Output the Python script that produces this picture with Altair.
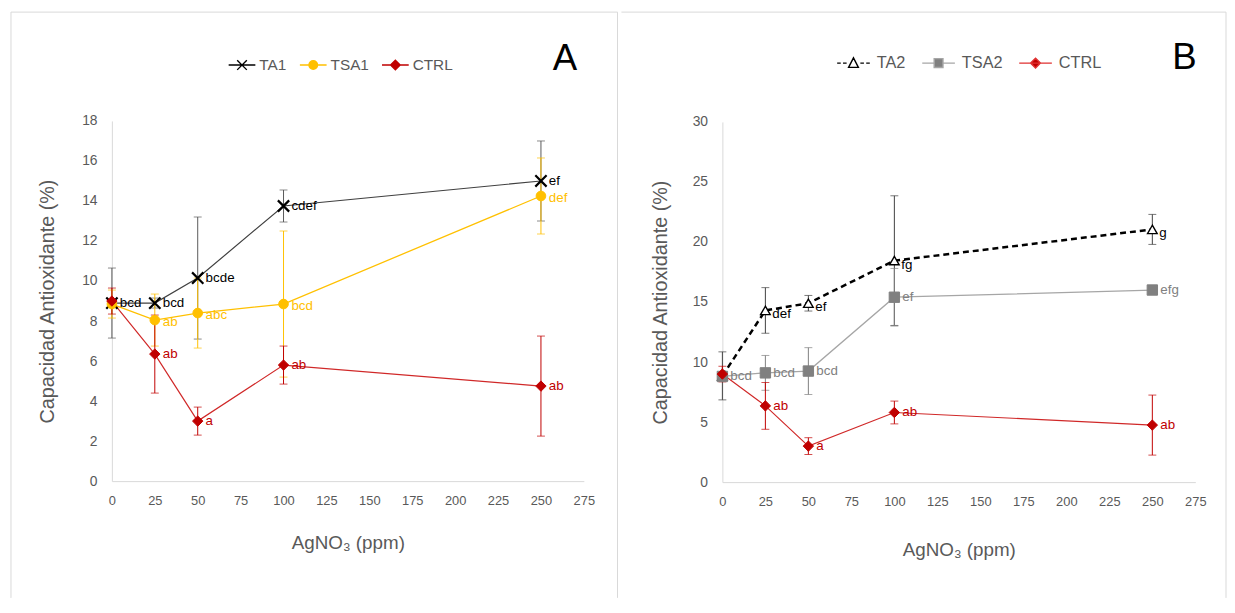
import altair as alt
import pandas as pd

# ---------------- data ----------------
x_ppm = [0, 25, 50, 100, 250]

ta1 = [8.9, 8.9, 10.15, 13.75, 15.0]
ta1_err = [1.75, 0.25, 3.05, 0.8, 2.0]
ta1_lab = ["bcd", "bcd", "bcde", "cdef", "ef"]

tsa1 = [8.85, 8.05, 8.4, 8.85, 14.25]
tsa1_err = [0.7, 1.3, 1.75, 3.65, 1.9]
tsa1_lab = ["", "ab", "abc", "bcd", "def"]

ctrl = [9.0, 6.35, 3.0, 5.8, 4.75]
ctrl_err = [0.65, 1.95, 0.7, 0.95, 2.5]
ctrl_lab = ["", "ab", "a", "ab", "ab"]

ta2 = [8.85, 14.3, 14.9, 18.45, 21.05]
ta2_err = [2.0, 1.9, 0.65, 5.4, 1.25]
ta2_lab = ["", "def", "ef", "fg", "g"]

tsa2 = [8.8, 9.1, 9.25, 15.4, 16.0]
tsa2_err = [0.3, 1.45, 1.95, 2.4, 0.2]
tsa2_lab = ["bcd", "bcd", "bcd", "ef", "efg"]

x_ticks = [0, 25, 50, 75, 100, 125, 150, 175, 200, 225, 250, 275]
yA_ticks = [0, 2, 4, 6, 8, 10, 12, 14, 16, 18]
yB_ticks = [0, 5, 10, 15, 20, 25, 30]

# ---------------- style ----------------
GRAY_TXT = "#595959"
AXIS_C = "#d9d9d9"
FONT = "Liberation Sans Narrow, Liberation Sans, sans-serif"
W_A, W_B, H = 613, 611, 592

X_PATH = "M-1,-1L1,1M1,-1L-1,1"


def frame(df_vals, err, labels):
    return pd.DataFrame({
        "x": x_ppm,
        "y": df_vals,
        "lo": [v - e for v, e in zip(df_vals, err)],
        "hi": [v + e for v, e in zip(df_vals, err)],
        "lab": labels,
    })


def series(df, xs, ys, ax, ay, line_c, line_w, dash, shape, size, fill,
           stroke, sw, err_c, lab_c, dx, dy):
    base = alt.Chart(df)
    X = alt.X("x:Q", scale=xs, axis=ax)
    Y = alt.Y("y:Q", scale=ys, axis=ay)
    line_kw = dict(color=line_c, strokeWidth=line_w)
    if dash:
        line_kw["strokeDash"] = dash
    line = base.mark_line(**line_kw).encode(x=X, y=Y)
    rule = base.mark_rule(color=err_c, strokeWidth=1).encode(
        x=X, y=alt.Y("lo:Q", scale=ys, axis=ay), y2="hi:Q")
    cap_lo = base.mark_tick(orient="horizontal", size=8, thickness=1,
                            color=err_c).encode(
        x=X, y=alt.Y("lo:Q", scale=ys, axis=ay))
    cap_hi = base.mark_tick(orient="horizontal", size=8, thickness=1,
                            color=err_c).encode(
        x=X, y=alt.Y("hi:Q", scale=ys, axis=ay))
    pts = base.mark_point(shape=shape, size=size, strokeWidth=sw, opacity=1,
                          stroke=stroke, fill=fill, filled=True).encode(x=X, y=Y)
    txt = base.mark_text(align="left", baseline="middle", dx=dx, dy=dy,
                         fontSize=13.5, font=FONT, color=lab_c).encode(
        x=X, y=Y, text="lab:N")
    return [line, rule, cap_lo, cap_hi], [pts, txt]


def legend_layer(field, names, paths, fills, strokes, lx, ly,
                 sym_size=729, lab_fs=15.5, lab_off=3, col_pad=10):
    leg = alt.Legend(title=None, orient="none", legendX=lx, legendY=ly,
                     direction="horizontal", symbolSize=sym_size,
                     symbolStrokeWidth=1.4, symbolOpacity=1,
                     labelFont=FONT, labelFontSize=lab_fs, labelColor=GRAY_TXT,
                     labelOffset=lab_off, columnPadding=col_pad)
    df = pd.DataFrame({field: names})
    return alt.Chart(df).mark_point(opacity=0, filled=True).encode(
        x=alt.value(0), y=alt.value(0),
        shape=alt.Shape(f"{field}:N", scale=alt.Scale(domain=names, range=paths), legend=leg),
        fill=alt.Fill(f"{field}:N", scale=alt.Scale(domain=names, range=fills), legend=leg),
        stroke=alt.Stroke(f"{field}:N", scale=alt.Scale(domain=names, range=strokes), legend=leg),
    )


def borders(w, left=True):
    one = pd.DataFrame({"k": [0]})
    layers = [
        alt.Chart(one).mark_rule(color=AXIS_C, strokeWidth=1).encode(
            x=alt.value(0), x2=alt.value(w), y=alt.value(0)),
        alt.Chart(one).mark_rule(color=AXIS_C, strokeWidth=1).encode(
            x=alt.value(w), y=alt.value(0), y2=alt.value(H)),
    ]
    if left:
        layers.append(alt.Chart(one).mark_rule(color=AXIS_C, strokeWidth=1).encode(
            x=alt.value(0), y=alt.value(0), y2=alt.value(H)))
    return layers


def letter(txt, px, py):
    one = pd.DataFrame({"t": [txt]})
    return alt.Chart(one).mark_text(fontSize=37, font="Liberation Sans",
                                    color="black", align="center",
                                    baseline="alphabetic").encode(
        x=alt.value(px), y=alt.value(py), text="t:N")


def axes(yvals, xoff, x_tp, y_tp):
    ax = alt.Axis(values=x_ticks, title="AgNO₃ (ppm)", grid=False, ticks=False,
                  labelFlush=False,
                  domainColor=AXIS_C, domainWidth=1, labelColor=GRAY_TXT,
                  labelFont=FONT, labelFontSize=13, labelPadding=14,
                  titleFont=FONT, titleFontSize=19, titleFontWeight="normal",
                  titleColor=GRAY_TXT, titlePadding=x_tp, offset=xoff)
    ay = alt.Axis(values=yvals, title="Capacidad Antioxidante (%)", grid=False,
                  ticks=False, labelFlush=False, domainColor=AXIS_C, domainWidth=1,
                  labelColor=GRAY_TXT, labelFont=FONT, labelFontSize=14,
                  labelPadding=15, titleFont=FONT, titleFontSize=20,
                  titleFontWeight="normal", titleColor=GRAY_TXT,
                  titlePadding=y_tp, offset=-102)
    return ax, ay


# ---------------- panel A ----------------
xsA = alt.Scale(domain=[0, 275], range=[102, 579], nice=False, zero=False)
ysA = alt.Scale(domain=[0, 18], range=[474, 110], nice=False)
axA, ayA = axes(yA_ticks, -(H - 474), 26, 24)

back, front = [], []
for args in [
    (frame(ta1, ta1_err, ta1_lab), "#404040", 1.2, None, X_PATH, 130, "black", "black", 2.2, "#595959", "#000000", 8, 0),
    (frame(tsa1, tsa1_err, tsa1_lab), "#FFC000", 1.3, None, "circle", 95, "#FFC000", "#FFC000", 1, "#FFC000", "#FFC000", 8, 2),
    (frame(ctrl, ctrl_err, ctrl_lab), "#D02828", 1.2, None, "diamond", 110, "#C00000", "#C00000", 1, "#C00000", "#C00000", 8, 0),
]:
    df, lc, lw, dash, shp, sz, fl, st, sw, ec, tc, dx, dy = args
    b, f = series(df, xsA, ysA, axA, ayA, lc, lw, dash, shp, sz, fl, st, sw, ec, tc, dx, dy)
    back += b
    front += f

legA = legend_layer(
    "sa", ["TA1", "TSA1", "CTRL"],
    ["M-1,0H1" + "M-0.36,-0.36L0.36,0.36M0.36,-0.36L-0.36,0.36",
     "M-1,0H-0.32A0.32,0.32,0,1,1,0.32,0H1M0.32,0A0.32,0.32,0,1,1,-0.32,0",
     "M-1,0H-0.36L0,-0.36L0.36,0H1M0.36,0L0,0.36L-0.36,0Z"],
    ["black", "#FFC000", "#C00000"],
    ["black", "#FFC000", "#C00000"],
    219, 39)

panelA = alt.layer(*borders(W_A, True), *back, *front, legA, letter("A", 560, 58)).properties(
    width=W_A, height=H)

# ---------------- panel B ----------------
xsB = alt.Scale(domain=[0, 275], range=[102, 580], nice=False, zero=False)
ysB = alt.Scale(domain=[0, 30], range=[475, 111], nice=False)
axB, ayB = axes(yB_ticks, -(H - 475), 32, 22)

back, front = [], []
for args in [
    (frame(ta2, ta2_err, ta2_lab), "#000000", 2.5, [6, 4], "triangle-up", 95, "white", "black", 1.4, "#404040", "#000000", 7, 4),
    (frame(tsa2, tsa2_err, tsa2_lab), "#A6A6A6", 1.3, None, "square", 110, "#808080", "#808080", 1, "#808080", "#808080", 8, 0),
    (frame(ctrl, ctrl_err, ctrl_lab), "#D02828", 1.2, None, "diamond", 110, "#C00000", "#C00000", 1, "#C00000", "#C00000", 8, 0),
]:
    df, lc, lw, dash, shp, sz, fl, st, sw, ec, tc, dx, dy = args
    b, f = series(df, xsB, ysB, axB, ayB, lc, lw, dash, shp, sz, fl, st, sw, ec, tc, dx, dy)
    back += b
    front += f

legB = legend_layer(
    "sb", ["TA2", "TSA2", "CTRL"],
    ["M-1,0H-0.78M-0.64,0H-0.42M0.42,0H0.64M0.78,0H1M0,-0.32L0.3,0.26L-0.3,0.26Z",
     "M-1,0H-0.27M0.27,0H1M-0.27,-0.27H0.27V0.27H-0.27Z",
     "M-1,0H-0.3L0,-0.3L0.3,0H1M0.3,0L0,0.3L-0.3,0Z"],
    ["white", "#808080", "#C00000"],
    ["black", "#A6A6A6", "#E03030"],
    217, 34, sym_size=1089, lab_fs=16.5, lab_off=6, col_pad=13)

panelB = alt.layer(*borders(W_B, False), *back, *front, legB, letter("B", 569, 57)).properties(
    width=W_B, height=H)

chart = alt.hconcat(panelA, panelB, spacing=0).resolve_scale(
    shape="independent", fill="independent", stroke="independent"
).resolve_legend(
    shape="independent", fill="independent", stroke="independent"
).properties(padding=0).configure_view(stroke=None)

chart.save("out.html", embed_options={"renderer": "svg", "actions": False})
